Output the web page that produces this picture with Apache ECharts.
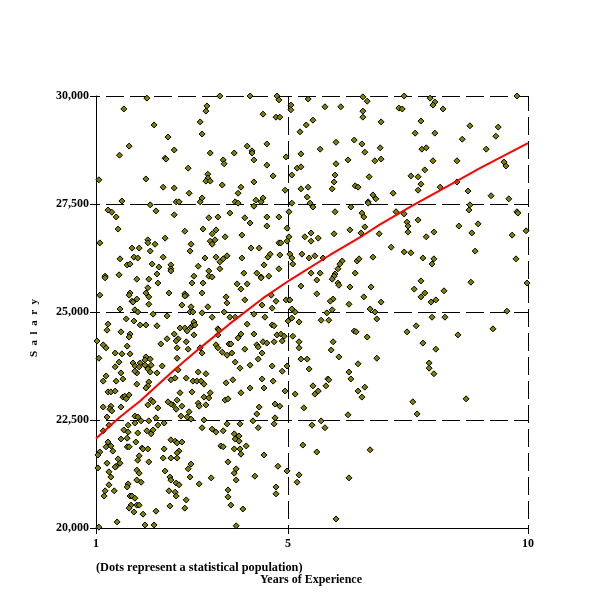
<!DOCTYPE html>
<html><head><meta charset="utf-8">
<script src="https://cdn.jsdelivr.net/npm/echarts@6/dist/echarts.min.js"></script>
<style>html,body{margin:0;padding:0;background:#fff}#c{width:600px;height:600px}</style>
</head><body><div id="c"></div>
<script>
const xTicks = [1, 5, 10];
const yearsCurve = [1,1.5,1.92,2.67,3.17,3.79,4.48,5.04,5.875,6.56,6.92,7.6,8.31,9,9.83,10];
const salaryCurve = [22070,22570,22940,23700,24170,24730,25320,25740,26320,26770,27030,27470,27900,28330,28810,28910];
const dotsA = [[1.06,28060],[1.58,29700],[2.06,29950],[2.21,29330],[1.69,28840],[1.49,28630],[2.04,28080],[1.54,27570],[2.40,27890],[2.63,27870],[2.13,27480],[1.25,27360],[1.33,27310],[1.42,27200],[1.46,26920],[2.25,27340],[2.63,27250],[2.50,29050],[2.63,28750],[2.44,28560],[2.46,28540],[2.92,28330],[2.94,27750],[2.67,27550],[2.73,27550],[3.17,27550],[3.21,27640],[2.85,26870],[3.23,26920],[3.35,27180],[3.54,27200],[3.50,26900],[3.42,26810],[3.58,30000],[3.31,29770],[3.29,29650],[3.17,29400],[3.21,29120],[3.38,28680],[3.65,28520],[3.67,28430],[3.33,28190],[3.33,28100],[3.29,28030],[3.38,28030],[3.63,27940]];
const dotsB = [[1.08,26600],[1.75,26480],[1.90,26480],[2.08,26670],[2.08,26600],[2.23,26570],[2.44,26710],[2.13,26410],[1.50,26230],[1.79,26270],[1.87,26250],[2.40,26270],[1.65,26090],[1.71,26110],[2.17,26110],[2.31,26040],[2.56,26090],[2.56,26000],[2.56,25950],[1.19,25830],[1.19,25790],[1.48,25860],[1.85,25760],[2.10,25760],[2.27,25880],[2.29,25670],[2.08,25560],[2.04,25440],[2.10,25350],[1.71,25440],[1.69,25390],[1.85,25300],[1.75,25250],[1.77,25230],[1.08,25390],[2.10,25180],[2.52,25440],[1.50,25070],[1.81,25050],[1.87,25000],[2.19,24950],[2.48,24910],[1.63,24840],[1.79,24790],[1.25,24720],[1.23,24580],[1.92,24700],[2.04,24700],[2.27,24680],[1.52,24540],[1.71,24490],[1.69,24420],[1.02,24330],[1.15,24240],[1.21,24170],[1.65,24210],[1.40,24050],[1.54,24030],[1.71,24030],[1.06,23930],[1.48,23840],[1.40,23730],[1.52,23590],[1.56,23450],[1.21,23520],[1.15,23400],[1.42,23400],[1.77,23820],[2.04,23960],[2.02,23890],[2.13,23910],[1.92,23820],[1.81,23750],[1.90,23730],[2.02,23770],[2.15,23770],[2.08,23680],[1.85,23590],[1.81,23630],[2.13,23610],[2.10,23380],[1.85,23330],[2.27,23590],[2.38,23750],[2.56,23430],[2.65,23470],[2.71,23660],[2.69,23930],[2.35,24260],[2.48,24380],[2.63,24490],[2.71,24380],[2.67,24330],[2.69,24170],[2.88,24310],[2.92,24140],[2.79,25160],[2.98,25120],[2.96,25000],[3.02,25000],[3.21,24980],[3.42,24880],[3.33,25120],[3.67,25000],[3.73,25210],[3.71,25350],[3.21,25440],[2.85,25420],[2.88,25390],[2.85,25370],[3.00,25670],[3.04,25830],[3.23,25670],[3.35,25950],[3.35,25830],[3.42,25810],[3.13,26060],[3.58,26000],[3.27,26250],[3.50,26270],[3.58,26160],[3.65,26230],[3.73,26300],[2.96,26410],[2.98,26570],[3.38,26640],[3.42,26570],[3.48,26670],[3.69,26740],[2.75,24630],[2.85,24630],[2.90,24560],[2.98,24650],[3.02,24700],[3.04,24770],[3.06,24700],[3.04,24470],[3.17,24170],[3.21,24050],[3.54,24610],[3.56,24580],[3.54,24470],[3.50,24240],[3.54,24170],[3.63,24070],[3.73,24000],[3.77,24260],[3.13,23610],[3.29,23570],[2.88,23470],[3.02,23400],[3.10,23400],[3.19,23400],[3.25,23330],[3.71,23360]];
const dotsC = [[1.25,23150],[1.31,23150],[1.40,23170],[1.15,22800],[1.31,22820],[1.29,22750],[1.33,22710],[1.23,22570],[1.52,22800],[1.56,23030],[1.60,23050],[1.63,22990],[1.69,23080],[2.08,23290],[2.04,23240],[2.15,22960],[2.19,22920],[2.08,22850],[2.29,22780],[1.81,22590],[1.87,22570],[1.94,22480],[1.81,22430],[1.67,22380],[2.10,22480],[2.25,22550],[2.42,22430],[2.29,22380],[1.27,22380],[1.15,22250],[1.58,22270],[1.67,22220],[1.87,22200],[2.06,22250],[2.15,22180],[2.19,22270],[1.52,22060],[1.65,22080],[1.83,21990],[1.25,21990],[1.21,21880],[1.31,21900],[1.35,21780],[1.08,21760],[1.04,21690],[1.65,21880],[1.69,21880],[1.96,21850],[1.98,21830],[2.08,21830],[1.90,21670],[1.87,21570],[2.10,21530],[1.46,21600],[1.50,21500],[1.23,21500],[1.42,21430],[1.40,21410],[1.04,21390],[1.27,21300],[1.31,21180],[1.85,21340],[1.90,21270],[1.85,21110],[1.94,21060],[1.27,21000],[1.67,21020],[1.65,20950],[1.19,20860],[1.17,20740],[1.38,20860],[1.71,20740],[1.75,20740],[1.81,20690],[1.73,20530],[1.85,20530],[1.90,20530],[1.69,20460],[1.79,20370],[1.98,20320],[2.25,20390],[1.44,20140],[1.06,20020],[2.02,20070],[2.21,20070],[2.56,22040],[2.65,22010],[2.69,21970],[2.79,21990],[2.42,21830],[2.73,21780],[2.69,21740],[2.40,21620],[2.56,21620],[2.69,21620],[2.44,21320],[2.54,21180],[2.56,21110],[2.67,21040],[2.73,21000],[2.52,20860],[2.65,20830],[2.67,20740],[2.54,20510],[2.88,20650],[2.85,20460],[2.98,21480],[2.92,21370],[2.96,21180],[3.15,21020],[3.40,21160],[3.21,22320],[3.42,22290],[3.50,22220],[3.65,22250],[3.73,22410],[3.25,22500],[2.94,22690],[2.90,22570],[2.98,22520],[2.77,22590],[2.67,22750],[2.60,22850],[2.56,22870],[2.50,22920],[2.69,22960],[2.79,22820],[2.75,23130],[3.00,23150],[3.13,22890],[3.15,22820],[3.25,23030],[3.29,22850],[3.38,23130],[3.35,23010],[3.69,22960],[3.75,22990],[3.60,21900],[3.65,21880],[3.75,21530],[3.75,20880],[3.75,20720]];
const dotsD = [[4.21,30000],[4.77,30000],[4.81,29910],[5.42,29930],[5.06,29790],[5.06,29680],[5.77,29750],[6.10,29750],[6.56,29980],[6.65,29880],[6.56,29650],[6.56,29510],[4.48,29580],[4.75,29510],[4.83,29510],[5.38,29330],[5.52,29440],[5.25,29170],[6.38,28980],[6.00,28930],[6.54,28890],[5.67,28770],[6.60,28700],[4.56,28890],[4.15,28840],[4.25,28730],[4.25,28680],[3.88,28680],[4.29,28520],[4.96,28590],[5.27,28660],[6.25,28520],[6.00,28430],[6.81,28500],[4.56,28400],[5.19,28330],[5.27,28360],[4.69,28150],[5.08,28170],[5.98,28170],[6.69,28130],[4.29,28010],[5.96,28010],[4.02,27890],[3.96,27750],[4.94,27820],[5.27,27850],[5.42,27890],[5.92,27850],[6.40,27920],[6.46,27890],[5.40,27660],[6.77,27710],[6.83,27620],[4.33,27590],[4.48,27640],[4.44,27550],[3.90,27550],[3.96,27520],[4.29,27450],[5.08,27520],[5.46,27520],[5.52,27430],[6.31,27430],[6.67,27550],[6.67,27520],[3.79,27290],[5.02,27320],[5.98,27320],[6.54,27290],[6.58,27200],[4.10,27180],[4.21,27060],[4.56,27200],[4.56,26990],[4.81,27200],[4.98,26940],[6.60,26970],[4.04,26780],[5.48,26830],[5.96,26810],[6.29,26900],[6.52,26830],[6.90,26810]];
const dotsE = [[4.81,26600],[4.85,26600],[4.98,26640],[5.02,26740],[5.35,26740],[5.48,26640],[5.63,26710],[4.23,26480],[4.40,26480],[4.04,26250],[4.50,26090],[4.58,26270],[4.63,26340],[4.83,26320],[5.04,26340],[5.08,26250],[5.29,26340],[5.44,26250],[5.56,26300],[5.73,26250],[4.81,26000],[5.10,26110],[6.13,26180],[6.08,26110],[6.04,26000],[5.98,25880],[5.96,25830],[5.92,25760],[6.44,26180],[6.48,26230],[6.77,26270],[6.40,25900],[4.08,25900],[4.35,25900],[4.44,25810],[4.44,25790],[4.60,25830],[5.48,25900],[5.67,25900],[5.60,25740],[3.94,25650],[4.15,25650],[4.02,25530],[5.27,25600],[6.04,25670],[6.06,25620],[6.29,25580],[6.73,25580],[4.65,25390],[5.60,25420],[4.10,25280],[4.75,25250],[4.96,25280],[5.04,25280],[5.94,25300],[5.88,25250],[6.58,25350],[6.27,25180],[4.46,25160],[4.67,25090],[5.08,25070],[5.92,25050],[5.15,25000],[5.81,24980],[6.71,25070],[6.81,25000],[3.79,24880],[3.90,24880],[4.29,24950],[4.52,24880],[5.08,24860],[5.00,24790],[5.23,24770],[5.69,24810],[5.85,24810],[6.85,24840],[4.15,24720],[4.67,24700],[4.71,24680],[6.38,24560],[6.42,24540],[4.02,24490],[3.96,24400],[4.29,24490],[4.77,24470],[4.85,24490],[4.92,24440],[5.10,24440],[6.65,24420],[4.88,24330],[5.23,24310],[5.94,24310],[5.23,24170],[4.35,24240],[4.38,24190],[4.48,24310],[4.56,24280],[4.71,24310],[3.81,24260],[5.90,24120],[4.10,24140],[4.46,24050],[3.83,24050],[4.38,23910],[5.27,23910],[5.40,23910],[6.06,23960],[6.85,23930],[3.90,23840],[4.21,23770],[4.67,23750],[4.98,23750],[6.46,23800],[4.00,23700],[5.44,23680],[4.88,23630],[6.27,23610],[3.85,23430],[4.46,23450],[4.69,23400],[5.83,23450],[5.85,23430],[6.31,23450]];
const dotsF = [[4.02,23130],[4.21,23240],[4.50,23240],[4.94,23170],[5.15,23100],[5.52,23290],[5.79,23290],[5.63,23170],[5.56,23100],[6.46,23170],[6.60,23260],[6.54,23030],[4.73,22870],[4.83,22820],[4.40,22800],[4.35,22640],[5.33,22780],[6.25,22620],[4.73,22550],[4.27,22480],[5.69,22480],[4.00,22410],[4.71,22410],[5.50,22380],[5.77,22320],[4.38,22320],[3.88,22180],[3.98,22130],[3.90,22060],[3.98,22010],[4.13,21900],[3.88,21830],[4.00,21830],[4.02,21710],[4.50,21690],[5.31,21920],[5.60,21760],[6.71,21810],[4.79,21430],[4.98,21320],[3.92,21370],[3.88,21270],[5.23,21230],[4.31,21200],[6.27,21160],[3.92,21110],[5.19,21060],[4.75,20950],[4.75,20790],[3.81,20530],[4.06,20440],[6.00,20210],[3.92,20050]];
const dotsG = [[7.42,30000],[7.96,29950],[8.06,29860],[8.02,29790],[7.31,29720],[7.38,29700],[8.23,29700],[9.77,30000],[6.94,29400],[7.77,29420],[8.79,29310],[9.38,29280],[7.65,29140],[8.06,29140],[9.33,29070],[8.63,29000],[6.92,28800],[7.79,28770],[7.88,28800],[9.13,28770],[6.94,28540],[8.02,28500],[8.52,28500],[9.50,28470],[9.54,28380],[7.85,28290],[7.56,28150],[7.71,28130],[7.77,27960],[8.17,27890],[8.52,28010],[7.71,27820],[7.19,27750],[8.75,27800],[9.23,27690],[9.60,27620],[8.79,27480],[8.77,27360],[7.25,27320],[7.42,27270],[9.77,27320],[9.79,27290],[7.48,27080],[7.50,26990],[7.71,27130],[7.50,26850],[8.04,26850],[8.56,26990],[8.96,27040],[8.83,26830],[9.96,26880],[9.67,26780]];
const dotsH = [[7.88,26740],[7.15,26500],[7.42,26390],[7.56,26370],[7.81,26250],[8.04,26230],[8.00,26110],[8.90,26410],[9.75,26230],[7.77,25720],[8.81,25690],[9.98,25670],[7.63,25530],[7.85,25440],[7.77,25350],[8.25,25490],[7.98,25230],[8.08,25280],[6.94,25230],[9.56,25020],[8.00,24880],[8.27,24880],[7.67,24680],[7.48,24540],[9.27,24610],[8.54,24470],[7.81,24280],[8.08,24140],[7.94,23820],[7.94,23700],[8.04,23570],[7.60,22920],[8.71,22990],[7.69,22640]];

const font = {color:'#000',fontFamily:'"Liberation Serif"',fontWeight:'bold',fontSize:12};
const chart = echarts.init(document.getElementById('c'),null,{renderer:'canvas'});
chart.setOption({
  animation:false,
  backgroundColor:'#fff',
  title:{text:'(Dots represent a statistical population)',left:96,top:562,padding:0,textStyle:{...font,fontSize:12.3}},
  grid:{left:96,top:96,width:432,height:432},
  xAxis:{type:'value',min:1,max:10,
    name:'Years of Experience',nameLocation:'middle',nameGap:46,nameTextStyle:{...font,padding:[0,2,0,0]},
    axisLine:{onZero:false,lineStyle:{color:'#000',width:1}},
    axisTick:{length:6,customValues:xTicks,lineStyle:{color:'#000'}},
    axisLabel:{customValues:xTicks,margin:10,...font},
    splitLine:{show:true,showMinLine:false,lineStyle:{color:'#000',width:1,type:[18,6],dashOffset:3}}},
  yAxis:{type:'value',min:20000,max:30000,interval:2500,
    name:'S  a  l  a  r  y',nameLocation:'middle',nameGap:56,nameRotate:90,nameTextStyle:{...font,fontSize:11,padding:[0,32,0,0]},
    axisLine:{show:true,onZero:false,lineStyle:{color:'#000',width:1}},
    axisTick:{show:true,length:6,lineStyle:{color:'#000'}},
    axisLabel:{margin:7,...font,formatter:v=>v.toLocaleString('en-US')},
    splitLine:{show:true,showMinLine:false,lineStyle:{color:'#000',width:1,type:[18,6],dashOffset:14}}},
  series:[
    {type:'scatter',symbol:'diamond',symbolSize:6,clip:false,z:2,
     itemStyle:{color:'#808000',borderColor:'#000',borderWidth:1,opacity:1},
     data:[...dotsA,...dotsB,...dotsC,...dotsD,...dotsE,...dotsF,...dotsG,...dotsH]},
    {type:'line',showSymbol:false,symbol:'none',smooth:false,z:3,
     lineStyle:{color:'#ff0000',width:2},
     data:yearsCurve.map((x,i)=>[x,salaryCurve[i]])}
  ]
});
</script></body></html>
